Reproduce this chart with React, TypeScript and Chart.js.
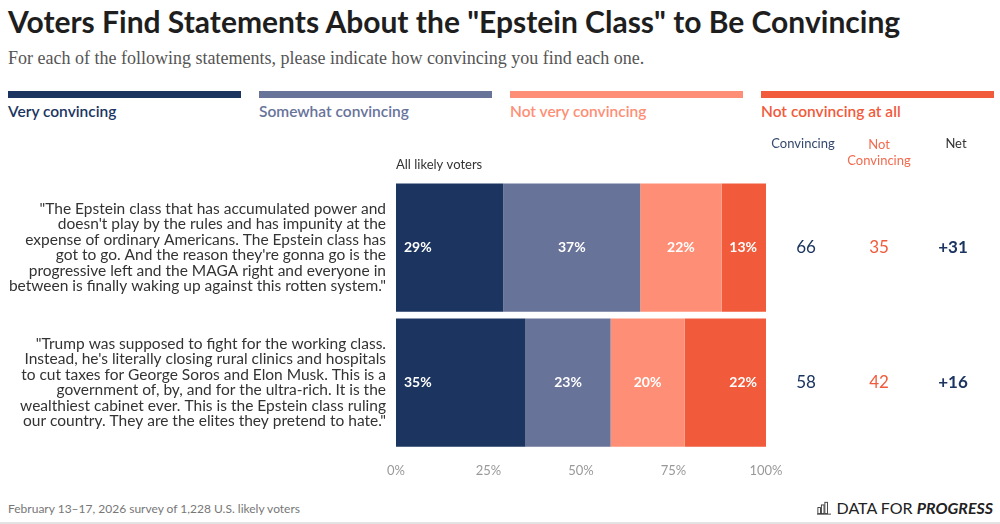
import React, { useEffect, useRef } from "react";
import { Chart, registerables } from "chart.js";
Chart.register(...registerables);

const categories: string[][] = [
  [
    "\"The Epstein class that has accumulated power and",
    "doesn't play by the rules and has impunity at the",
    "expense of ordinary Americans. The Epstein class has",
    "got to go. And the reason they're gonna go is the",
    "progressive left and the MAGA right and everyone in",
    "between is finally waking up against this rotten system.\"",
  ],
  [
    "\"Trump was supposed to fight for the working class.",
    "Instead, he's literally closing rural clinics and hospitals",
    "to cut taxes for George Soros and Elon Musk. This is a",
    "government of, by, and for the ultra-rich. It is the",
    "wealthiest cabinet ever. This is the Epstein class ruling",
    "our country. They are the elites they pretend to hate.\"",
  ],
];
const seriesNames = ["Very convincing", "Somewhat convincing", "Not very convincing", "Not convincing at all"];
const seriesColors = ["#1b3560", "#68739a", "#fe8f76", "#f15a3b"];
const veryConvincing = [29, 35];
const somewhatConvincing = [37, 23];
const notVeryConvincing = [22, 20];
const notAtAll = [13, 22];
const convincingTotals = ["66", "58"];
const notConvincingTotals = ["35", "42"];
const netValues = ["+31", "+16"];
const xTickValues = [0, 25, 50, 75, 100];
const groupLabel = "All likely voters";

const FONT = "Lato, 'Open Sans', sans-serif";

export default function App() {
  const ref = useRef<HTMLCanvasElement | null>(null);

  useEffect(() => {
    document.body.style.margin = "0";
    const canvas = ref.current;
    if (!canvas) return;
    const series = [veryConvincing, somewhatConvincing, notVeryConvincing, notAtAll];

    const labelPlugin = {
      id: "segLabels",
      afterDatasetsDraw(chart: any) {
        const ctx = chart.ctx;
        ctx.save();
        ctx.font = `bold 14px ${FONT}`;
        ctx.fillStyle = "#ffffff";
        ctx.textBaseline = "middle";
        const n = chart.data.datasets.length;
        chart.data.datasets.forEach((ds: any, i: number) => {
          const meta = chart.getDatasetMeta(i);
          meta.data.forEach((el: any, j: number) => {
            const txt = ds.data[j] + "%";
            const start = Math.min(el.base, el.x);
            const end = Math.min(Math.max(el.base, el.x), chart.chartArea.right);
            if (i === 0) {
              ctx.textAlign = "left";
              ctx.fillText(txt, start + 8, el.y);
            } else if (i === n - 1) {
              ctx.textAlign = "right";
              ctx.fillText(txt, end - 9, el.y);
            } else {
              ctx.textAlign = "center";
              ctx.fillText(txt, (start + end) / 2, el.y);
            }
          });
        });
        ctx.restore();
      },
    };

    const columnsPlugin = {
      id: "columns",
      afterDraw(chart: any) {
        const ctx = chart.ctx;
        const area = chart.chartArea;
        const yScale = chart.scales.y;
        const cols = [806, 879, 953];
        ctx.save();
        ctx.textBaseline = "middle";
        ctx.font = `13px ${FONT}`;
        ctx.textAlign = "left";
        ctx.fillStyle = "#333333";
        ctx.fillText(groupLabel, area.left, 35);
        ctx.textAlign = "center";
        ctx.fillStyle = "#34486e";
        ctx.fillText("Convincing", cols[0] - 3, 14);
        ctx.fillStyle = "#f26b4f";
        ctx.fillText("Not", cols[1], 15);
        ctx.fillText("Convincing", cols[1], 31);
        ctx.fillStyle = "#333333";
        ctx.fillText("Net", cols[2] + 3, 14);
        categories.forEach((_c, j) => {
          const y = yScale.getPixelForValue(j);
          ctx.font = `17px ${FONT}`;
          ctx.fillStyle = "#1b3560";
          ctx.fillText(convincingTotals[j], cols[0], y);
          ctx.fillStyle = "#f15a3b";
          ctx.fillText(notConvincingTotals[j], cols[1], y);
          ctx.font = `bold 17px ${FONT}`;
          ctx.fillStyle = "#1b3560";
          ctx.fillText(netValues[j], cols[2], y);
        });
        ctx.restore();
      },
    };

    const chart = new Chart(canvas, {
      type: "bar",
      data: {
        labels: categories as any,
        datasets: series.map((d, i) => ({
          label: seriesNames[i],
          data: d,
          backgroundColor: seriesColors[i],
          borderWidth: 0,
          barPercentage: 0.95,
          categoryPercentage: 1,
        })),
      },
      options: {
        indexAxis: "y",
        animation: false,
        responsive: false,
        layout: { padding: { top: 50, right: 234, left: 0, bottom: 0 } },
        plugins: { legend: { display: false }, tooltip: { enabled: false }, title: { display: false } },
        scales: {
          x: {
            stacked: true,
            min: 0,
            max: 100,
            afterFit: (s: any) => {
              s.height = 40;
              s.paddingLeft = 0;
              s.paddingRight = 0;
            },
            afterBuildTicks: (s: any) => {
              s.ticks = xTickValues.map((v) => ({ value: v }));
            },
            grid: { display: false, drawTicks: false },
            border: { display: false },
            ticks: {
              padding: 13,
              color: "#999999",
              font: { family: FONT, size: 13 },
              callback: (v: any) => v + "%",
            },
          },
          y: {
            stacked: true,
            afterFit: (s: any) => {
              s.width = 396;
              s.paddingTop = 0;
              s.paddingBottom = 0;
            },
            grid: { display: false, drawTicks: false },
            border: { display: false },
            ticks: {
              padding: 10,
              color: "#333333",
              font: { family: FONT, size: 15.5, lineHeight: 1.0 },
            },
          },
        },
      },
      plugins: [labelPlugin, columnsPlugin],
    });
    return () => chart.destroy();
  }, []);

  return (
    <div style={{ position: "relative", width: 1000, height: 524, overflow: "hidden", background: "#fff", fontFamily: FONT }}>
      <div style={{ position: "absolute", left: 8, top: 3, fontSize: 30, fontWeight: 700, color: "#1e1e1e", whiteSpace: "nowrap" }}>
        Voters Find Statements About the "Epstein Class" to Be Convincing
      </div>
      <div style={{ position: "absolute", left: 8, top: 48, fontSize: 18, fontFamily: "'Liberation Serif', serif", color: "#555", whiteSpace: "nowrap" }}>
        For each of the following statements, please indicate how convincing you find each one.
      </div>
      {seriesNames.map((n, i) => (
        <div key={n} style={{ position: "absolute", left: 8 + i * 251, top: 91, width: 233 }}>
          <div style={{ height: 7, background: seriesColors[i] }} />
          <div style={{ marginTop: 4, fontSize: 15.5, fontWeight: 600, color: seriesColors[i], whiteSpace: "nowrap" }}>{n}</div>
        </div>
      ))}
      <canvas ref={ref} width={1000} height={360} style={{ position: "absolute", left: 0, top: 130, width: 1000, height: 360 }} />
      <div style={{ position: "absolute", left: 8, top: 501, fontSize: 12, color: "#777", whiteSpace: "nowrap" }}>
        February 13–17, 2026 survey of 1,228 U.S. likely voters
      </div>
      <div style={{ position: "absolute", right: 7, top: 498, fontSize: 16, color: "#222", whiteSpace: "nowrap", display: "flex", alignItems: "center" }}>
        <svg width="14" height="14" viewBox="0 0 16 15" style={{ marginRight: 6 }}>
          <rect x="1" y="7" width="3" height="7" fill="none" stroke="#333" strokeWidth="1" />
          <rect x="5" y="4" width="3" height="10" fill="none" stroke="#333" strokeWidth="1" />
          <rect x="9" y="1" width="3" height="13" fill="none" stroke="#333" strokeWidth="1" />
          <line x1="0" y1="14.5" x2="16" y2="14.5" stroke="#333" strokeWidth="1" />
        </svg>
        <span>DATA FOR&nbsp;</span>
        <span style={{ fontWeight: 700, fontStyle: "italic" }}>PROGRESS</span>
      </div>
      <div style={{ position: "absolute", left: 0, right: 0, bottom: 0, height: 2, background: "#e3e3e3" }} />
    </div>
  );
}
